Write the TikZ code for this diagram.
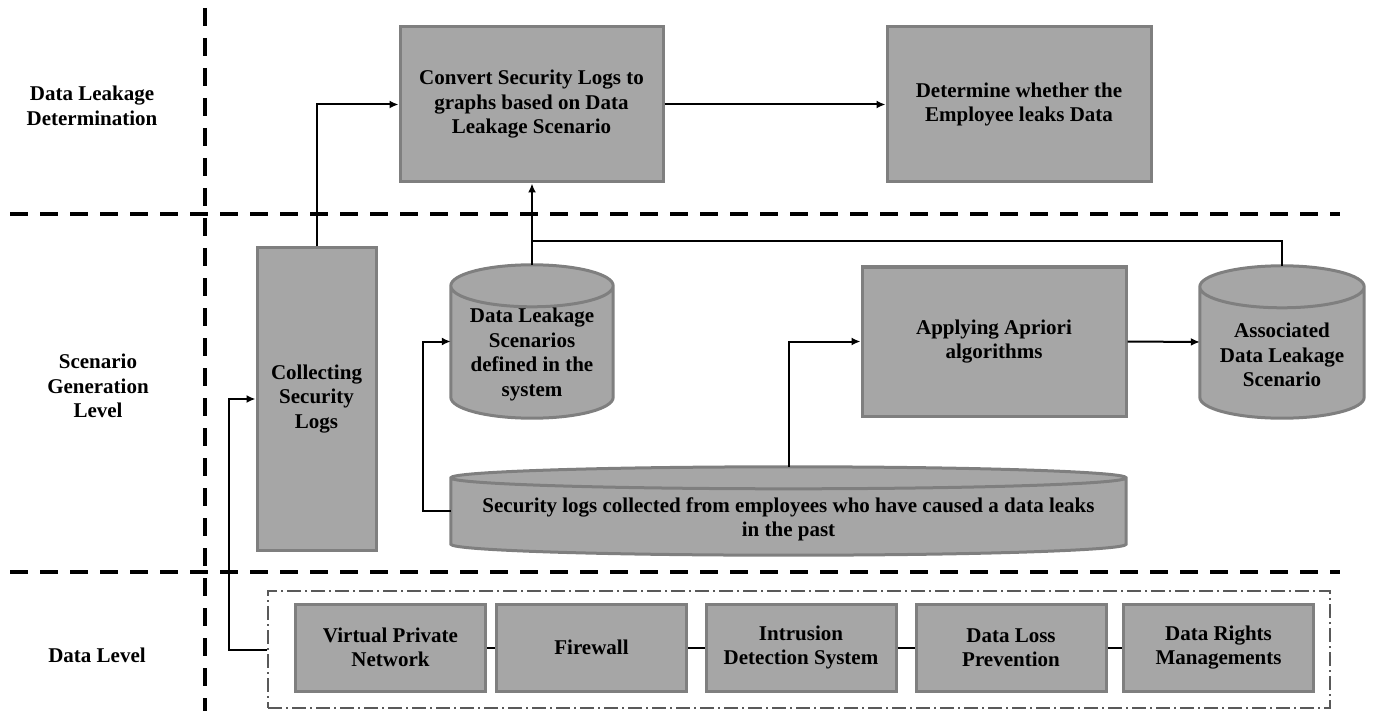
\documentclass[tikz,border=0pt]{standalone}
\usepackage{fontspec}
\setmainfont{Liberation Serif}
\usepackage{xcolor}
\usepackage{tikz}
\usetikzlibrary{positioning, arrows.meta, calc}

\definecolor{boxfill}{HTML}{A6A6A6}
\definecolor{boxedge}{HTML}{7F7F7F}
\definecolor{framegray}{HTML}{595959}

% cylinder round a named node, #2 = height of the rim
\newcommand{\drawdb}[2]{%
  \draw[dbbody] let \p1=(#1.north west), \p2=(#1.south east), \n1={(\x2-\x1)/2} in
    (\x1,\y1-#2) -- (\x1,\y2+#2)
    arc[start angle=180, end angle=360, x radius=\n1, y radius=#2]
    -- (\x2,\y1-#2)
    arc[start angle=0, end angle=180, x radius=\n1, y radius=#2]
    -- cycle
    (\x1,\y1-#2) arc[start angle=180, end angle=360, x radius=\n1, y radius=#2];
}

\begin{document}
\begin{tikzpicture}[
    x=1pt, y=1pt,
    font=\fontsize{21}{24.5}\selectfont\bfseries,
    stage/.style={draw=boxedge, fill=boxfill, line width=3pt, inner sep=0pt, align=center},
    srcbox/.style={minimum width=190pt, minimum height=87pt},
    dbshape/.style={inner sep=0pt},
    dbbody/.style={draw=boxedge, fill=boxfill, line width=3pt},
    dbtext/.style={align=center},
    layername/.style={align=center},
    divider/.style={line width=4pt, dash pattern=on 18pt off 12pt},
    sourceframe/.style={draw=framegray, line width=1.5pt, dash pattern=on 14pt off 4pt on 2pt off 4pt},
    msg/.style={-{Latex[length=9pt,width=8pt]}, line width=2pt},
    link/.style={line width=2pt}
]
    \useasboundingbox (0,0) rectangle (1375,-711);

    \def\ytop{-104.5}  % determination row
    \def\ymid{-341.5}  % scenario row
    \def\ydata{-647.5} % data row

    % level dividers
    \draw[divider] (205,-8) -- (205,-711);
    \draw[divider] (10,-214) -- (1340,-214);
    \draw[divider] (10,-572) -- (1340,-572);

    % level names
    \node[layername] (lvltop) at (92,-106) {Data Leakage\\Determination};
    \node[layername] (lvlmid) at (98,-386) {Scenario\\Generation\\Level};
    \node[layername] (lvlbot) at (97,-655) {Data Level};

    % determination
    \node[stage, minimum width=263pt, minimum height=155pt] (convert) at (531.5,\ytop) {Convert Security Logs to\\graphs based on Data\\Leakage Scenario};
    \node[stage, minimum width=264pt, minimum height=155pt] (decide) at (1019,\ytop) {Determine whether the\\Employee leaks Data};

    % scenario generation
    \node[stage, minimum width=119pt, minimum height=302pt] (collect) at (316.5,-399) {Collecting\\Security\\Logs};
    \node[stage, minimum width=264pt, minimum height=149pt] (apriori) at (994,\ymid) {Applying Apriori\\algorithms};

    \node[dbshape, minimum width=162pt, minimum height=153pt] (scenarios) at (532,\ymid) {};
    \drawdb{scenarios}{21pt}
    \node[dbtext] (scenariostext) at (532,-354.5) {Data Leakage\\Scenarios\\defined in the\\system};

    \node[dbshape, minimum width=164pt, minimum height=152pt] (assoc) at (1282,-342) {};
    \drawdb{assoc}{21pt}
    \node[dbtext] (assoctext) at (1282,-355) {Associated\\Data Leakage\\Scenario};

    \node[dbshape, minimum width=675pt, minimum height=88pt] (pastlogs) at (788.5,-511) {};
    \drawdb{pastlogs}{11pt}
    \node[dbtext] (pastlogstext) at (788.5,-519.5) {Security logs collected from employees who have caused a data leaks\\in the past};

    % data sources
    \node[sourceframe, minimum width=1062pt, minimum height=117pt] (sources) at (799,-649.5) {};
    \node[stage, srcbox] (vpn) at (390.5,\ydata) {Virtual Private\\Network};
    \node[stage, srcbox] (firewall) at (591.5,\ydata) {Firewall};
    \node[stage, srcbox] (ids) at (801,\ydata) {Intrusion\\Detection System};
    \node[stage, srcbox] (dlp) at (1011,\ydata) {Data Loss\\Prevention};
    \node[stage, srcbox] (drm) at (1218.5,\ydata) {Data Rights\\Managements};

    \draw[link] (vpn) -- (firewall);
    \draw[link] (firewall) -- (ids);
    \draw[link] (ids) -- (dlp);
    \draw[link] (dlp) -- (drm);

    % flow
    \coordinate (merge) at (532,-241);
    \draw[msg] (sources.west) -- ++(-38,0) |- (collect.west);
    \draw[msg] (collect.north) |- (convert.west);
    \draw[msg] (convert.east) -- (decide.west);
    \draw[msg] (scenarios.north) -- (scenarios.north |- convert.south);
    \draw[link] (assoc.north) |- (merge);
    \draw[msg] (pastlogs.west) -- ++(-28,0) |- (scenarios.west);
    \draw[msg] (pastlogs.north) |- (apriori.west);
    \draw[msg] (apriori.east) -- (assoc.west);
\end{tikzpicture}
\end{document}
